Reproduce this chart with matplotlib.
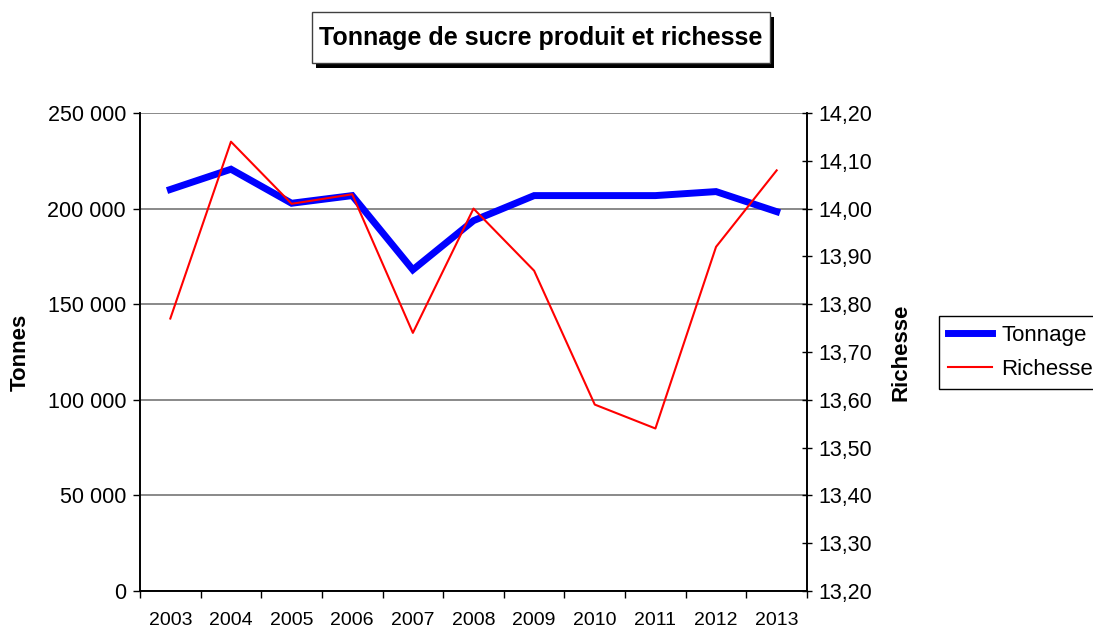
# Tonnage de sucre produit et richesse (2003-2013)
import matplotlib
matplotlib.use('Agg')
import matplotlib.pyplot as plt
from matplotlib.patches import Rectangle
from matplotlib.ticker import FuncFormatter, FixedLocator

plt.rcParams['font.family'] = ['Liberation Sans', 'DejaVu Sans']

# ======================
# Données
# ======================
annees = ['2003', '2004', '2005', '2006', '2007', '2008',
          '2009', '2010', '2011', '2012', '2013']
tonnage = [210000, 220600, 202800, 206800, 168000, 193700,
           206800, 206800, 206800, 208900, 198400]
richesse = [13.77, 14.14, 14.01, 14.03, 13.74, 14.00,
            13.87, 13.59, 13.54, 13.92, 14.08]

W, H = 1093, 630
fig = plt.figure(figsize=(W / 100, H / 100), dpi=100)
ax = fig.add_axes([140 / W, 1 - 591 / H, (807 - 140) / W, (591 - 113) / H])
ax2 = ax.twinx()

x = list(range(len(annees)))
l1, = ax.plot(x, tonnage, color='#0000ff', lw=5, solid_joinstyle='miter', zorder=3)
l2, = ax2.plot(x, richesse, color='#ff0000', lw=1.5, zorder=4)

# axe gauche
ax.set_ylim(0, 250000)
ax.set_yticks(range(0, 250001, 50000))
ax.yaxis.set_major_formatter(FuncFormatter(lambda v, p: f"{int(v):,}".replace(',', ' ')))
ax.grid(axis='y', color='#808080', lw=1.3)
ax.set_axisbelow(True)
ax.tick_params(axis='y', direction='out', length=5, width=1, pad=5, labelsize=15.5)
ax.set_ylabel('Tonnes', fontsize=16, fontweight='bold', labelpad=12)

# axe droit
ax2.set_ylim(13.2, 14.2)
ax2.set_yticks([13.2 + 0.1 * i for i in range(11)])
ax2.yaxis.set_major_formatter(FuncFormatter(lambda v, p: f"{v:.2f}".replace('.', ',')))
ax2.tick_params(axis='y', direction='inout', length=7, width=1, pad=5, labelsize=15.5)
ax2.set_ylabel('Richesse', fontsize=16, fontweight='bold', labelpad=13)

# axe x : traits entre les catégories, étiquettes au centre
ax.set_xlim(-0.5, len(annees) - 0.5)
ax.xaxis.set_major_locator(FixedLocator([i - 0.5 for i in range(len(annees) + 1)]))
ax.xaxis.set_minor_locator(FixedLocator(x))
ax.set_xticklabels([], minor=False)
ax.set_xticklabels(annees, minor=True)
ax.tick_params(axis='x', which='major', direction='out', length=5, width=1)
ax.tick_params(axis='x', which='minor', length=0, pad=15, labelsize=14)

for a in (ax, ax2):
    a.spines['top'].set_visible(False)
    for s in ('left', 'right', 'bottom'):
        a.spines[s].set_linewidth(1.2)
        a.spines[s].set_color('black')

# légende
fig.legend([l1, l2], ['Tonnage', 'Richesse'], loc='upper left',
           bbox_to_anchor=(939 / W, 1 - 316 / H), fontsize=16,
           frameon=True, fancybox=False, edgecolor='black', framealpha=1,
           handlelength=2.0, handletextpad=0.4, borderpad=0.4, labelspacing=0.6,
           borderaxespad=0)

# titre avec cadre et ombre
fig.patches.append(Rectangle((316 / W, 1 - 68 / H), (770 - 312) / W, (63 - 12) / H,
                             transform=fig.transFigure, facecolor='black', edgecolor='none'))
fig.patches.append(Rectangle((312 / W, 1 - 63 / H), (770 - 312) / W, (63 - 12) / H,
                             transform=fig.transFigure, facecolor='white',
                             edgecolor='#404040', lw=1))
fig.text(541 / W, 1 - 38 / H, 'Tonnage de sucre produit et richesse',
         ha='center', va='center', fontsize=18, fontweight='bold')

fig.savefig('out.png', dpi=100)
